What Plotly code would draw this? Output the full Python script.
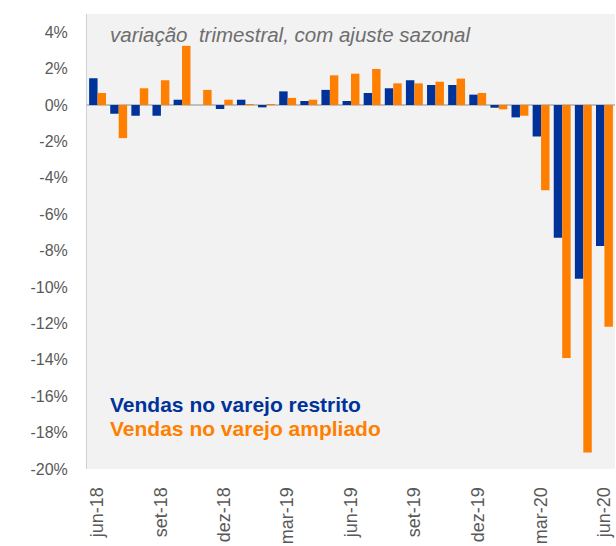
import plotly.graph_objects as go

months = ["jun-18", "jul-18", "ago-18", "set-18", "out-18", "nov-18", "dez-18",
          "jan-19", "fev-19", "mar-19", "abr-19", "mai-19", "jun-19", "jul-19",
          "ago-19", "set-19", "out-19", "nov-19", "dez-19", "jan-20", "fev-20",
          "mar-20", "abr-20", "mai-20", "jun-20"]
restrito = [1.47, -0.48, -0.59, -0.59, 0.29, 0.0, -0.22, 0.29, -0.13, 0.75,
            0.22, 0.83, 0.22, 0.66, 0.92, 1.36, 1.10, 1.10, 0.57, -0.15,
            -0.68, -1.73, -7.29, -9.55, -7.75]
ampliado = [0.66, -1.82, 0.92, 1.36, 3.25, 0.83, 0.29, 0.05, 0.05, 0.39,
            0.29, 1.63, 1.72, 1.98, 1.19, 1.19, 1.28, 1.45, 0.66, -0.24,
            -0.59, -4.68, -13.9, -19.1, -12.18]
tick_months = ["jun-18", "set-18", "dez-18", "mar-19", "jun-19", "set-19",
               "dez-19", "mar-20", "jun-20"]
y_ticks = list(range(-20, 5, 2))

BLUE = "#003399"
ORANGE = "#FF7F00"
FONT = "Liberation Sans, Arial, sans-serif"

fig = go.Figure()
fig.add_trace(go.Bar(x=months, y=restrito, name="Vendas no varejo restrito",
                     marker=dict(color=BLUE, line=dict(width=0))))
fig.add_trace(go.Bar(x=months, y=ampliado, name="Vendas no varejo ampliado",
                     marker=dict(color=ORANGE, line=dict(width=0))))

fig.update_layout(
    width=616, height=546,
    margin=dict(l=87, r=1, t=14, b=77),
    paper_bgcolor="white", plot_bgcolor="#F2F2F2",
    barmode="group", bargap=0.2, bargroupgap=0,
    showlegend=False,
    font=dict(family=FONT, size=16, color="#595959"),
)
fig.update_xaxes(
    type="category", categoryorder="array", categoryarray=months,
    tickmode="array", tickvals=tick_months, ticktext=tick_months,
    tickangle=-90, ticks="outside", ticklen=10, tickcolor="rgba(0,0,0,0)",
    showgrid=False, showline=False, zeroline=False,
    tickfont=dict(size=18, color="#595959"),
)
fig.update_yaxes(
    range=[-20, 5], tickmode="array", tickvals=y_ticks,
    ticktext=[f"{v}%" for v in y_ticks],
    showgrid=False, zeroline=True, zerolinecolor="#BFBFBF", zerolinewidth=2,
    showline=True, linecolor="#D0D0D0", linewidth=1,
    ticks="outside", ticklen=15, tickcolor="rgba(0,0,0,0)",
    tickfont=dict(size=16, color="#595959"),
)

fig.add_annotation(text="variação  trimestral, com ajuste sazonal",
                   xref="paper", yref="paper", x=0.040, y=0.954,
                   xanchor="left", yanchor="middle", showarrow=False,
                   font=dict(family=FONT, size=20.5, color="#6E6E6E", style="italic"))
fig.add_annotation(text="<b>Vendas no varejo restrito</b>",
                   xref="paper", yref="paper", x=0.040, y=0.1407,
                   xanchor="left", yanchor="middle", showarrow=False,
                   font=dict(family=FONT, size=21, color=BLUE))
fig.add_annotation(text="<b>Vendas no varejo ampliado</b>",
                   xref="paper", yref="paper", x=0.040, y=0.0901,
                   xanchor="left", yanchor="middle", showarrow=False,
                   font=dict(family=FONT, size=21, color=ORANGE))

fig.write_html("out.html")
